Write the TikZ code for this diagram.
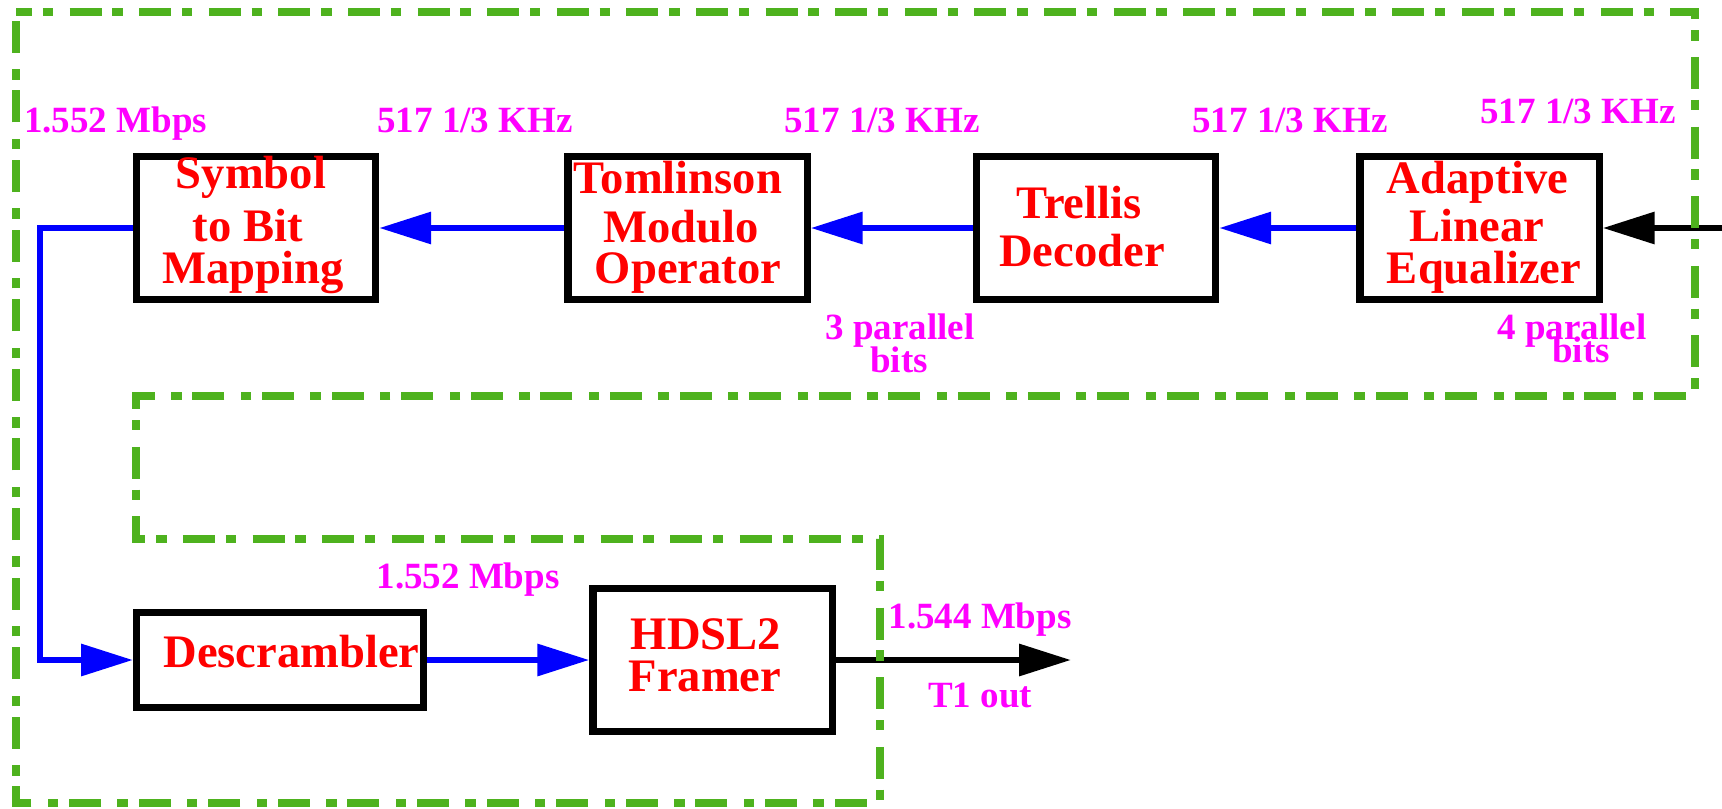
\documentclass[tikz,border=0pt]{standalone}
\usepackage{fontspec}
\setmainfont{Liberation Serif}
\usetikzlibrary{arrows.meta}
\definecolor{grn}{RGB}{78,178,30}
\definecolor{mag}{RGB}{255,0,255}
\begin{document}
\begin{tikzpicture}[x=0.5pt,y=-0.5pt,
  blk/.style={draw=black, line width=3.6pt, minimum width=119.6pt, minimum height=71.4pt, inner sep=0pt},
  btxt/.style={anchor=base, inner sep=0pt, text=red, font=\fontsize{23.3}{24}\selectfont\bfseries},
  ltxt/.style={anchor=base, inner sep=0pt, text=mag, font=\fontsize{18.5}{20}\selectfont\bfseries},
  bconn/.style={draw=blue, line width=3.2pt},
  kconn/.style={draw=black, line width=3.2pt},
  head/.style={-{Triangle[length=26pt,width=15.5pt]}},
  frame/.style={draw=grn, line width=3.75pt, dash pattern=on 16pt off 5.4pt on 5.2pt off 8.2pt, dash phase=8pt}
]
\useasboundingbox (0,0) rectangle (1722,808);
\fill[white] (0,0) rectangle (1722,808);

% boxes
\node[blk] (sym) at (256,228) {};
\node[blk] (tom) at (687.5,228) {};
\node[blk] (tre) at (1096,228) {};
\node[blk] (ada) at (1479.5,228) {};
\node[blk, minimum width=143.4pt, minimum height=47.4pt] (des) at (280,660) {};
\node[blk] (fra) at (712.5,660) {};

% connectors
\coordinate (in) at (1722,228);
\coordinate (bend) at (40,660);
\coordinate (out) at (1071,660);
\draw[kconn,head] (in) -- (ada.east);
\draw[bconn,head] (ada.west) -- (tre.east);
\draw[bconn,head] (tre.west) -- (tom.east);
\draw[bconn,head] (tom.west) -- (sym.east);
\draw[bconn,head] (sym.west) -| (bend) -- (des.west);
\draw[bconn,head] (des.east) -- (fra.west);
\draw[kconn,head] (fra.east) -- (out);

% box texts
\node[btxt] (sym1) at (251,188) {Symbol};
\node[btxt] (sym2) at (248,241) {to Bit};
\node[btxt] (sym3) at (253,283) {Mapping};
\node[btxt] (tom1) at (678,193) {Tomlinson};
\node[btxt] (tom2) at (681,242) {Modulo};
\node[btxt] (tom3) at (688,283) {Operator};
\node[btxt] (tre1) at (1079,218) {Trellis};
\node[btxt] (tre2) at (1082,266) {Decoder};
\node[btxt] (ada1) at (1477.5,193) {Adaptive};
\node[btxt] (ada2) at (1477,241) {Linear};
\node[btxt] (ada3) at (1484,283) {Equalizer};
\node[btxt] (des1) at (291.5,667) {Descrambler};
\node[btxt] (fra1) at (706,649) {HDSL2};
\node[btxt] (fra2) at (705,691) {Framer};

% labels
\node[ltxt] (l1) at (115.5,133) {1.552 Mbps};
\node[ltxt] (l2) at (475,133) {517 1/3 KHz};
\node[ltxt] (l3) at (882,133) {517 1/3 KHz};
\node[ltxt] (l4) at (1290,133) {517 1/3 KHz};
\node[ltxt] (l5) at (1578,124) {517 1/3 KHz};
\node[ltxt] (l6a) at (900,339) {3 parallel};
\node[ltxt] (l6b) at (899,372) {bits};
\node[ltxt] (l7a) at (1572,339) {4 parallel};
\node[ltxt] (l7b) at (1581,362) {bits};
\node[ltxt] (l8) at (468,588) {1.552 Mbps};
\node[ltxt] (l9) at (980,628) {1.544 Mbps};
\node[ltxt] (l10) at (980,707) {T1 out};

% green frame
\draw[frame] (16,12) -- (1695,12) -- (1695,396) -- (136,396) -- (136,539) -- (880,539) -- (880,803) -- (16,803) -- cycle;
\end{tikzpicture}
\end{document}
